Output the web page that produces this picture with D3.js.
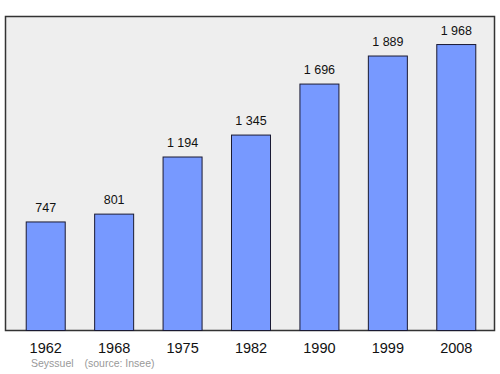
<!DOCTYPE html>
<html><head><meta charset="utf-8">
<script src="https://cdn.jsdelivr.net/npm/d3@7"></script>
<style>body{margin:0;background:#fff}svg{display:block}</style>
</head><body>
<script>
const years = ["1962","1968","1975","1982","1990","1999","2008"];
const population = [747, 801, 1194, 1345, 1696, 1889, 1968];
const valueLabels = ["747","801","1 194","1 345","1 696","1 889","1 968"];

(function(){
const W = 500, H = 374;
const svg = d3.select("body").append("svg").attr("width", W).attr("height", H);
const pL = 5.5, pR = 494.5, pT = 16.5, pB = 330.5;
const font = "Liberation Sans, Arial, sans-serif";

svg.append("rect").attr("x", pL).attr("y", pT).attr("width", pR-pL).attr("height", pB-pT)
  .attr("fill", "#eeeeee").attr("stroke", "#333").attr("stroke-width", 1.5);

const x = d3.scaleBand().domain(years).range([11.5, 490.5]).paddingInner(0.43).paddingOuter(0.215);
const y = d3.scaleLinear().domain([0, 2161]).range([pB, pT]);

svg.selectAll("rect.bar").data(population).join("rect").attr("class","bar")
  .attr("x", (d,i) => x(years[i])).attr("width", x.bandwidth())
  .attr("y", d => y(d)).attr("height", d => pB - y(d))
  .attr("fill", "#7799ff").attr("stroke", "#1a1a33").attr("stroke-width", 1);

svg.selectAll("text.val").data(population).join("text").attr("class","val")
  .attr("x", (d,i) => x(years[i]) + x.bandwidth()/2).attr("y", d => y(d) - 10)
  .attr("text-anchor","middle").attr("font-family", font)
  .attr("font-size", 12.5).attr("fill","#111").text((d,i) => valueLabels[i]);

const axis = d3.axisBottom(x).tickSize(0).tickPadding(0);
const g = svg.append("g").attr("transform", `translate(0,${pB})`).call(axis);
g.select(".domain").remove();
g.selectAll("text").attr("y", 22.5).attr("dy", 0).attr("font-family", font)
  .attr("font-size", 14.5).attr("fill","#111");

svg.append("text").attr("x", 31).attr("y", 367).attr("font-family", font)
  .attr("font-size", 10.5).attr("fill","#999").text("Seyssuel");
svg.append("text").attr("x", 84.5).attr("y", 367).attr("font-family", font)
  .attr("font-size", 10.5).attr("fill","#999").text("(source: Insee)");
})();
</script>
</body></html>
